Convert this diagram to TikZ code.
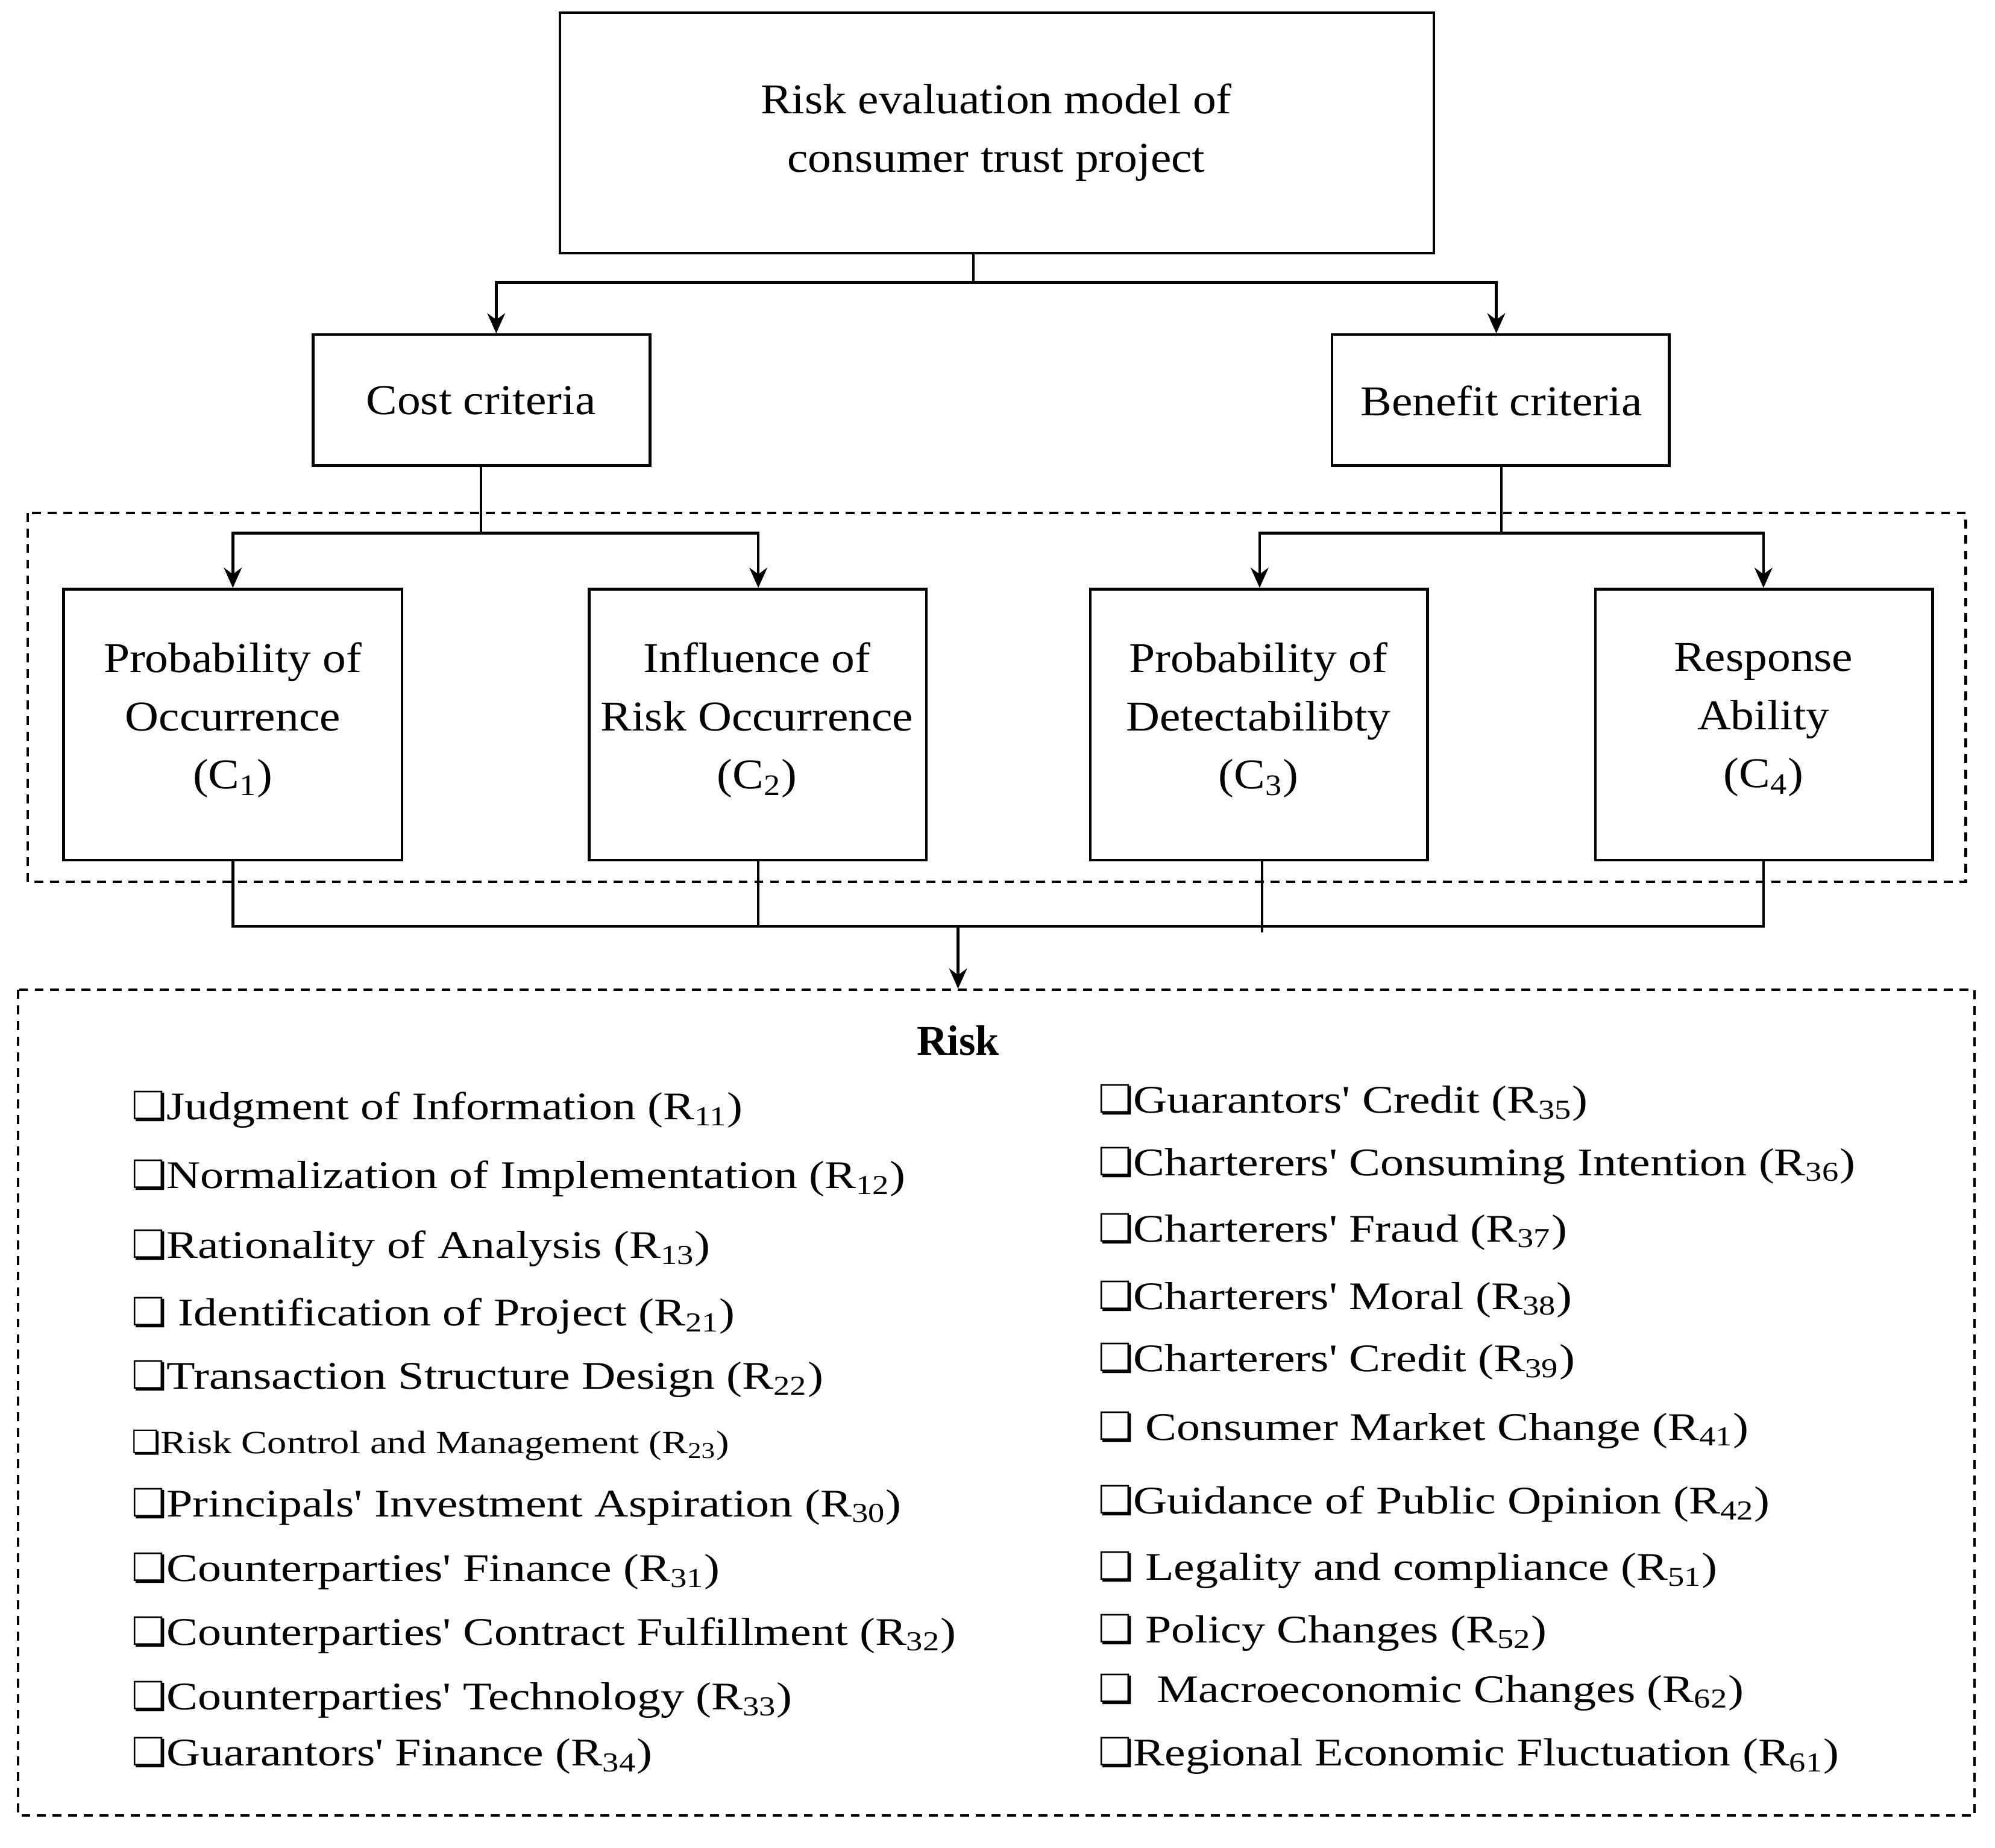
\documentclass[tikz,border=0pt]{standalone}
\usepackage{fontspec}
\setmainfont{Liberation Serif}[Ligatures=TeXOff]
\newfontfamily\djv{DejaVu Sans}
\usetikzlibrary{arrows.meta}
\newcommand{\rs}[1]{R\textsubscript{#1}}
\newcommand{\cb}{{\djv\char"274F}}
\begin{document}
\begin{tikzpicture}[x=0.02cm,y=-0.02cm,
  box/.style={draw,line width=1.2pt,inner sep=0pt},
  lbl/.style={font=\fontsize{19}{26}\selectfont\addfontfeature{FakeStretch=1.1},align=center},
  item/.style={anchor=west,font=\fontsize{17.5}{20}\selectfont\addfontfeature{FakeStretch=1.2},inner sep=0pt},
  ln/.style={line width=1.2pt},
  ar/.style={line width=1.2pt,-{Stealth[length=9pt,width=8pt]}},
  dashbox/.style={line width=1.1pt,dash pattern=on 4pt off 3pt}]
\useasboundingbox (0,0) rectangle (1568,1452);
\fill[white] (0,0) rectangle (1568,1452);
% top
\draw[box] (440,10) rectangle (1127,199);
\node[lbl] (top) at (783,104) {Risk evaluation model of\\consumer trust project};
\draw[box] (246,263) rectangle (511,366);
\node[lbl] (cost) at (378,315) {Cost criteria};
\draw[box] (1047,263) rectangle (1312,366);
\node[lbl] (ben) at (1180,315) {Benefit criteria};
\coordinate (t1) at (765,199); \coordinate (t2) at (765,222);
\draw[ln] (t1) -- (t2);
\draw[ar] (t2) -| (390,262);
\draw[ar] (t2) -| (1176,262);
\draw[dashbox] (22,403) rectangle (1545,693);
\draw[ln] (378,366) -- (378,419);
\draw[ar] (378,419) -| (183,462);
\draw[ar] (378,419) -| (596,462);
\draw[ln] (1180,366) -- (1180,419);
\draw[ar] (1180,419) -| (990,462);
\draw[ar] (1180,419) -| (1386,462);
\foreach \a/\b in {50/316,463/728,857/1122,1254/1519}{
  \draw[box] (\a,463) rectangle (\b,676);
}
\node[lbl] (c1) at (183,566) {Probability of\\Occurrence\\(C\textsubscript{1})};
\node[lbl] (c2) at (595,566) {Influence of\\Risk Occurrence\\(C\textsubscript{2})};
\node[lbl] (c3) at (989,566) {Probability of\\Detectabilibty\\(C\textsubscript{3})};
\node[lbl] (c4) at (1386,566) {Response\\Ability\\(C\textsubscript{4})};
\draw[ln] (183,676) -- (183,728) -- (1386,728) -- (1386,676);
\draw[ln] (596,676) -- (596,728);
\draw[ln] (992,676) -- (992,733);
\draw[ar] (753,728) -- (753,777);
\draw[dashbox] (14,778) rectangle (1552,1427);
\node[font=\fontsize{19}{22}\selectfont\bfseries] (risk) at (753,818) {Risk};
\node[item] (l1) at (103,872) {\cb Judgment of Information (\rs{11})};
\node[item] (l2) at (103,926) {\cb Normalization of Implementation (\rs{12})};
\node[item] (l3) at (103,981) {\cb Rationality of Analysis (\rs{13})};
\node[item] (l4) at (103,1034) {\cb\ Identification of Project (\rs{21})};
\node[item] (l5) at (103,1084) {\cb Transaction Structure Design (\rs{22})};
\node[item,font=\fontsize{14.5}{17}\selectfont\addfontfeature{FakeStretch=1.2}] (l6) at (103,1136) {\cb Risk Control and Management (\rs{23})};
\node[item] (l7) at (103,1184) {\cb Principals' Investment Aspiration (\rs{30})};
\node[item] (l8) at (103,1235) {\cb Counterparties' Finance (\rs{31})};
\node[item] (l9) at (103,1285) {\cb Counterparties' Contract Fulfillment (\rs{32})};
\node[item] (l10) at (103,1336) {\cb Counterparties' Technology (\rs{33})};
\node[item] (l11) at (103,1380) {\cb Guarantors' Finance (\rs{34})};
\node[item] (r1) at (863,867) {\cb Guarantors' Credit (\rs{35})};
\node[item] (r2) at (863,916) {\cb Charterers' Consuming Intention (\rs{36})};
\node[item] (r3) at (863,968) {\cb Charterers' Fraud (\rs{37})};
\node[item] (r4) at (863,1021) {\cb Charterers' Moral (\rs{38})};
\node[item] (r5) at (863,1070) {\cb Charterers' Credit (\rs{39})};
\node[item] (r6) at (863,1124) {\cb\ Consumer Market Change (\rs{41})};
\node[item] (r7) at (863,1182) {\cb Guidance of Public Opinion (\rs{42})};
\node[item] (r8) at (863,1234) {\cb\ Legality and compliance (\rs{51})};
\node[item] (r9) at (863,1283) {\cb\ Policy Changes (\rs{52})};
\node[item] (r10) at (863,1330) {\cb\ \ Macroeconomic Changes (\rs{62})};
\node[item] (r11) at (863,1380) {\cb Regional Economic Fluctuation (\rs{61})};
\end{tikzpicture}
\end{document}
